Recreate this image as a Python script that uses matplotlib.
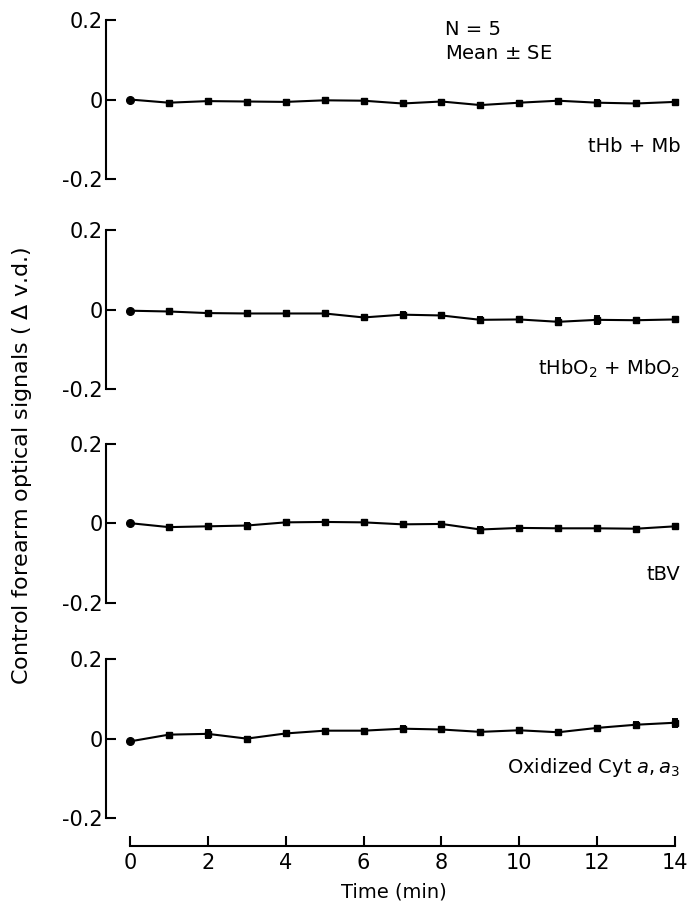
import numpy as np
import matplotlib
matplotlib.use("Agg")
import matplotlib.pyplot as plt

plt.rcParams['font.family'] = ['DejaVu Sans']
plt.rcParams['axes.unicode_minus'] = False
plt.rcParams['mathtext.fontset'] = 'dejavusans'

# время, мин
time_min = list(range(15))

# сигналы (Δ v.d.), среднее и SE
hb_mb = [0.0, -0.008, -0.004, -0.005, -0.006, -0.002, -0.003, -0.010,
         -0.005, -0.014, -0.008, -0.003, -0.008, -0.010, -0.006]
hb_mb_se = [0, 0.004, 0.005, 0.004, 0.004, 0.005, 0.004, 0.005,
            0.004, 0.006, 0.005, 0.004, 0.006, 0.005, 0.005]

hbo2_mbo2 = [-0.003, -0.005, -0.009, -0.010, -0.010, -0.010, -0.020, -0.013,
             -0.015, -0.026, -0.025, -0.031, -0.026, -0.027, -0.025]
hbo2_mbo2_se = [0, 0.005, 0.004, 0.005, 0.005, 0.005, 0.006, 0.006,
                0.006, 0.006, 0.005, 0.009, 0.010, 0.005, 0.005]

tbv = [0.0, -0.010, -0.008, -0.006, 0.002, 0.003, 0.002, -0.003,
       -0.002, -0.016, -0.012, -0.013, -0.013, -0.014, -0.008]
tbv_se = [0, 0.005, 0.006, 0.006, 0.006, 0.005, 0.005, 0.005,
          0.005, 0.006, 0.006, 0.005, 0.006, 0.005, 0.005]

cyt = [-0.007, 0.010, 0.012, 0.0, 0.013, 0.020, 0.020, 0.025,
       0.023, 0.017, 0.021, 0.016, 0.027, 0.035, 0.040]
cyt_se = [0, 0.005, 0.010, 0.005, 0.004, 0.004, 0.005, 0.007,
          0.006, 0.004, 0.005, 0.004, 0.006, 0.008, 0.010]

series = [hb_mb, hbo2_mbo2, tbv, cyt]
errors = [hb_mb_se, hbo2_mbo2_se, tbv_se, cyt_se]
labels = ['tHb + Mb', 'tHbO$_2$ + MbO$_2$', 'tBV', 'Oxidized Cyt $\\it{a,a_3}$']
label_y = [-0.118, -0.15, -0.13, -0.072]

x_ticks = [0, 2, 4, 6, 8, 10, 12, 14]
y_ticks = [-0.2, 0, 0.2]
y_ticklabels = ['-0.2', '0', '0.2']

fig = plt.figure(figsize=(6.87, 9.13), dpi=100)
bottoms = [0.804, 0.574, 0.340, 0.104]
axes = []
for b in bottoms:
    axes.append(fig.add_axes([0.154, b, 0.84, 0.174]))

fs = 14
for i, ax in enumerate(axes):
    x = np.array(time_min)
    y = np.array(series[i])
    e = np.array(errors[i])
    ax.plot(x, y, color='black', lw=1.5, zorder=2)
    ax.errorbar(x[1:], y[1:], yerr=e[1:], fmt='s', color='black',
                ms=5, elinewidth=1.4, capsize=2.5, capthick=1.4, zorder=3)
    ax.plot(x[:1], y[:1], 'o', color='black', ms=5.5, zorder=3)

    ax.set_xlim(-0.62, 14.2)
    ax.set_ylim(-0.2, 0.2)
    ax.spines['top'].set_visible(False)
    ax.spines['right'].set_visible(False)
    ax.spines['left'].set_bounds(-0.2, 0.2)
    ax.spines['left'].set_linewidth(1.5)
    ax.set_yticks(y_ticks)
    ax.set_yticklabels(y_ticklabels)
    ax.tick_params(axis='y', direction='in', length=7, width=1.5,
                   labelsize=15, pad=2)
    ax.patch.set_visible(False)

    ax.text(14.13, label_y[i], labels[i], ha='right', va='center', fontsize=fs)

    if i < 3:
        ax.spines['bottom'].set_visible(False)
        ax.set_xticks([])
    else:
        ax.spines['bottom'].set_position(('outward', 20))
        ax.spines['bottom'].set_bounds(0, 14)
        ax.spines['bottom'].set_linewidth(1.5)
        ax.set_xticks(x_ticks)
        ax.tick_params(axis='x', direction='in', length=7, width=1.5,
                       labelsize=15, pad=5)
        ax.set_xlabel('Time (min)', fontsize=fs, labelpad=7)

axes[0].text(8.1, 0.2, 'N = 5\nMean $\\pm$ SE', ha='left', va='top',
             fontsize=fs, linespacing=1.3)

fig.text(0.032, 0.49, 'Control forearm optical signals ( $\\Delta$ v.d.)',
         rotation=90, ha='center', va='center', fontsize=16)

fig.savefig('out.png', dpi=100)
